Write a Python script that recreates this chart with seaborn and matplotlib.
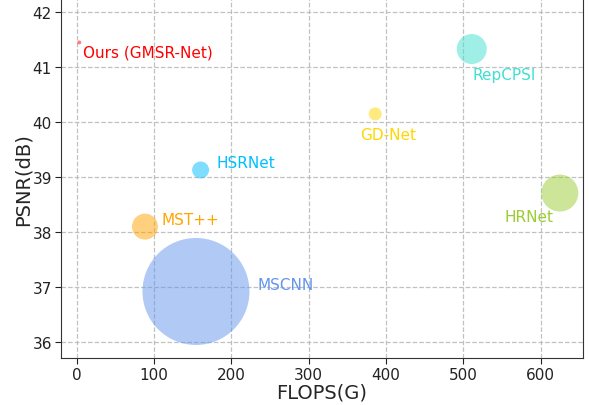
import matplotlib
matplotlib.use("Agg")
import matplotlib.pyplot as plt
import seaborn as sns
import pandas as pd

models = ["Ours (GMSR-Net)", "HSRNet", "RepCPSI", "GD-Net", "HRNet", "MST++", "MSCNN"]
flops = [3, 160, 511, 386, 625, 88, 154]
psnr = [41.45, 39.13, 41.33, 40.15, 38.71, 38.10, 36.92]
bubble = [8, 150, 467, 88, 710, 350, 5935]
colors = ["red", "deepskyblue", "turquoise", "gold", "yellowgreen", "orange", "cornflowerblue"]
label_x = [8, 181, 512, 367, 554, 109, 234]
label_y = [41.27, 39.27, 40.87, 39.78, 38.29, 38.23, 37.05]
xticks = [0, 100, 200, 300, 400, 500, 600]
yticks = [36, 37, 38, 39, 40, 41, 42]

df = pd.DataFrame({"model": models, "flops": flops, "psnr": psnr, "bubble": bubble})

sns.set_style("ticks")
plt.rcParams['font.family'] = ['DejaVu Sans']

fig = plt.figure(figsize=(5.89, 4.06), dpi=100)
ax = fig.add_axes([61/589, 47/406, (583-61)/589, 1 - 47/406])

sns.scatterplot(data=df, x="flops", y="psnr", hue="model",
                palette=dict(zip(models, colors)),
                size="model", sizes=dict(zip(models, bubble)),
                alpha=0.5, linewidth=0, legend=False, ax=ax, zorder=3)

for m, lx, ly, c in zip(models, label_x, label_y, colors):
    ax.text(lx, ly, m, color=c, fontsize=11, ha="left", va="center", zorder=4)

ax.set_xlim(-20.7, 655)
ax.set_ylim(35.71, 42.24)
ax.set_xticks(xticks)
ax.set_yticks(yticks)
ax.tick_params(labelsize=11, colors="#222222", length=4, pad=2.5)
ax.grid(True, linestyle="--", color="#bbbbbb", linewidth=0.9, alpha=0.9, zorder=0)
ax.set_axisbelow(True)
ax.spines["top"].set_visible(False)
for s in ["left", "right", "bottom"]:
    ax.spines[s].set_color("#333333")
ax.set_xlabel("FLOPS(G)", fontsize=14, labelpad=0)
ax.set_ylabel("PSNR(dB)", fontsize=14, labelpad=0)

fig.savefig("out.png", dpi=100)
